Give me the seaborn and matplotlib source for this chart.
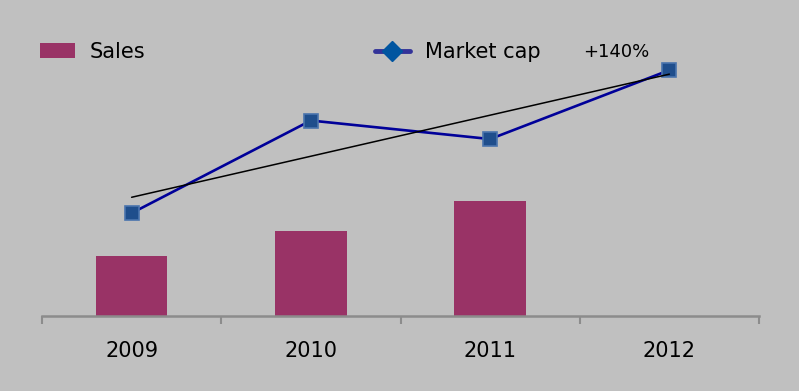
import numpy as np
import pandas as pd
import matplotlib
matplotlib.use("Agg")
import matplotlib.pyplot as plt
import seaborn as sns
from matplotlib.lines import Line2D
from matplotlib.patches import Patch

years = ["2009", "2010", "2011", "2012"]
sales = [58, 82.5, 112, np.nan]
market_cap = [100, 190, 172, 239]
growth_label = "+140%"

sns.set_theme(style="white")
plt.rcParams["font.family"] = ["DejaVu Sans"]

BG = "#c0c0c0"
fig = plt.figure(figsize=(7.99, 3.91), dpi=100, facecolor=BG)
ax = fig.add_axes([42/799, (391-316)/391, (759-42)/799, (316-30)/391])
ax.set_facecolor(BG)

df = pd.DataFrame({"year": years, "sales": sales, "cap": market_cap})
df["x"] = np.arange(len(years))

sns.barplot(data=df, x="year", y="sales", color="#993366", width=0.4,
            saturation=1, ax=ax, edgecolor="none")
sns.lineplot(data=df, x="x", y="cap", ax=ax, color="#000099", linewidth=1.9,
             marker="s", markersize=10, markerfacecolor="#1f4e8c",
             markeredgecolor="#4a74ad", markeredgewidth=1.2, zorder=4)

# linear trend of market cap
coef = np.polyfit(df["x"], df["cap"], 1)
ax.plot(df["x"], np.polyval(coef, df["x"]), color="black", linewidth=1.1, zorder=5)

ax.set_xlim(-0.5, 3.5)
ax.set_ylim(0, 278)
ax.set_xlabel("")
ax.set_ylabel("")
ax.set_yticks([])
for s in ["top", "right", "left"]:
    ax.spines[s].set_visible(False)
ax.spines["bottom"].set_color("#8c8c8c")
ax.spines["bottom"].set_linewidth(1.8)

ax.set_xticks(np.arange(-0.5, 4, 1.0))
ax.set_xticklabels([])
ax.tick_params(axis="x", which="major", direction="out", length=6, width=1.5,
               color="#8c8c8c", bottom=True)
ax.set_xticks(np.arange(len(years)), minor=True)
ax.set_xticklabels(years, minor=True)
ax.tick_params(axis="x", which="minor", length=0, pad=18, labelsize=15,
               labelcolor="black")

ax.text(3.0 - 0.48, 257, growth_label, fontsize=13, color="black",
        ha="left", va="center")

handles = [Patch(facecolor="#993366", edgecolor="none"),
           Line2D([0], [0], color="#333399", linewidth=3.5, marker="D",
                  markersize=10, markerfacecolor="#0055a0", markeredgecolor="#0055a0")]
leg = fig.legend(handles, ["Sales", "Market cap"], ncol=2, loc="center left",
                 bbox_to_anchor=(40/799, 1 - 52/391), frameon=False,
                 fontsize=15, handlelength=1.7, handleheight=0.75,
                 columnspacing=11.0, handletextpad=0.7,
                 borderpad=0, borderaxespad=0, labelcolor="black")

fig.savefig("out.png", dpi=100, facecolor=BG)
